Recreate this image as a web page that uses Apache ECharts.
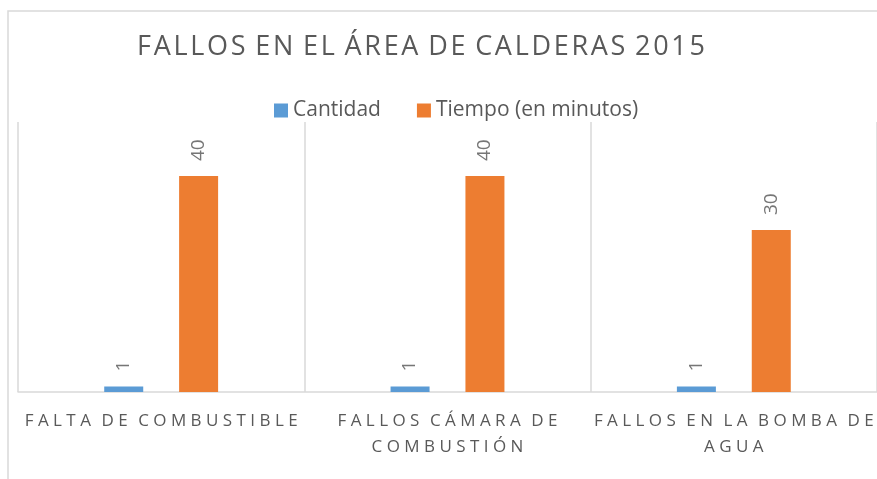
<!DOCTYPE html>
<html>
<head>
<meta charset="utf-8">
<script src="https://cdn.jsdelivr.net/npm/echarts@6/dist/echarts.min.js"></script>
<style>
  html, body { margin: 0; padding: 0; background: #fff; }
  #chart { width: 877px; height: 479px; }
</style>
</head>
<body>
<div id="chart"></div>
<script>
const chartTitle = 'FALLOS EN EL ÁREA DE CALDERAS 2015';
const categories = ['FALTA DE COMBUSTIBLE', 'FALLOS CÁMARA DE COMBUSTIÓN', 'FALLOS EN LA BOMBA DE AGUA'];
const seriesNames = ['Cantidad', 'Tiempo (en minutos)'];
const cantidad = [1, 1, 1];
const tiempo = [40, 40, 30];

const FONT = '"Open Sans", "Noto Sans", sans-serif';
const TEXT = '#595959';
const HAIR = '\u200A';

// no letter-spacing in canvas text, so pad letters with spaces
function spaced(text, sep, wordSep) {
  return text.split(' ').map(w => w.split('').join(sep)).join(wordSep);
}

// wrap category names like Excel does, then space out the letters
function wrapLabel(text) {
  const words = text.split(' ');
  const lines = [];
  let cur = '';
  words.forEach(w => {
    const next = cur ? cur + ' ' + w : w;
    if (next.length > 21 && cur) {
      lines.push(cur);
      cur = w;
    } else {
      cur = next;
    }
  });
  lines.push(cur);
  return lines.map(l => spaced(l, ' ', '  ' + HAIR)).join('\n');
}

const chart = echarts.init(document.getElementById('chart'));
const option = {
  animation: false,
  title: {
    text: spaced(chartTitle, HAIR, ' ' + HAIR),
    left: 137,
    top: 34,
    padding: 0,
    textStyle: { fontFamily: FONT, fontSize: 27, fontWeight: 'normal', color: TEXT },
  },
  legend: {
    left: 274,
    top: 100,
    padding: 0,
    itemWidth: 14,
    itemHeight: 14,
    itemGap: 36,
    icon: 'rect',
    textStyle: { fontFamily: FONT, fontSize: 21, color: TEXT },
  },
  graphic: [
    {
      type: 'rect',
      shape: { x: 8, y: 11, width: 900, height: 500 },
      style: { fill: 'none', stroke: '#D9D9D9', lineWidth: 1.5 },
      silent: true,
    },
  ],
  grid: { left: 18, right: -2, top: 122, bottom: 87 },
  xAxis: {
    type: 'category',
    data: categories,
    axisLine: { lineStyle: { color: '#D9D9D9', width: 1.5 } },
    axisTick: { show: false },
    splitLine: { show: true, lineStyle: { color: '#D9D9D9', width: 1.5 } },
    axisLabel: {
      interval: 0,
      margin: 16,
      fontFamily: FONT,
      fontSize: 17,
      lineHeight: 26,
      color: TEXT,
      formatter: wrapLabel,
    },
  },
  yAxis: {
    type: 'value',
    min: 0,
    max: 50,
    show: false,
    splitLine: { show: false },
  },
  series: [
    {
      name: seriesNames[0],
      type: 'bar',
      data: cantidad,
      barWidth: 39,
      barGap: '92%',
      itemStyle: { color: '#5B9BD5' },
      label: {
        show: true,
        position: 'top',
        rotate: 90,
        align: 'left',
        verticalAlign: 'middle',
        distance: 15,
        fontFamily: FONT,
        fontSize: 19,
        color: '#767676',
      },
    },
    {
      name: seriesNames[1],
      type: 'bar',
      data: tiempo,
      barWidth: 39,
      itemStyle: { color: '#ED7D31' },
      label: {
        show: true,
        position: 'top',
        rotate: 90,
        align: 'left',
        verticalAlign: 'middle',
        distance: 15,
        fontFamily: FONT,
        fontSize: 19,
        color: '#767676',
      },
    },
  ],
};
chart.setOption(option);
</script>
</body>
</html>
